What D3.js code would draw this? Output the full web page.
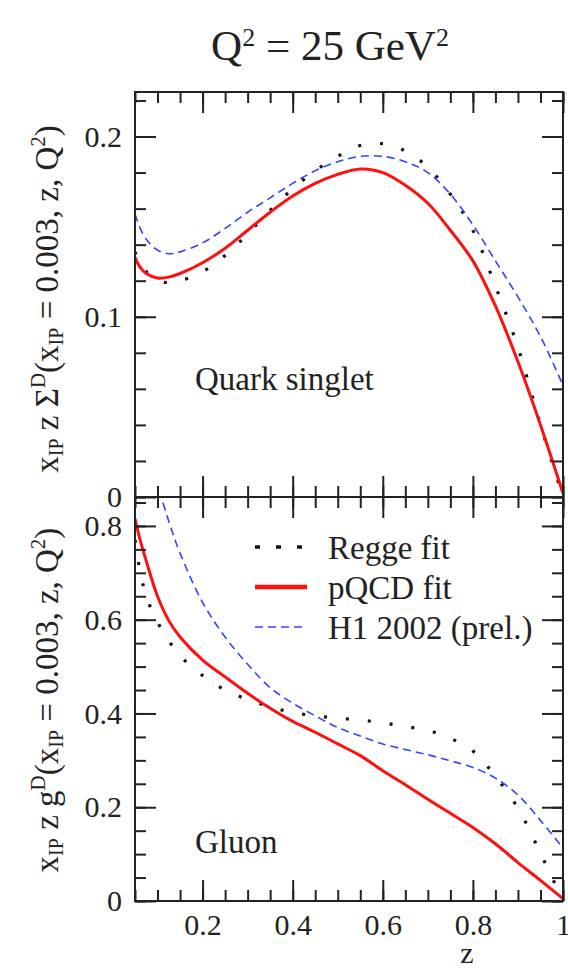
<!DOCTYPE html>
<html>
<head>
<meta charset="utf-8">
<script src="https://cdn.jsdelivr.net/npm/d3@7"></script>
<style>
  body { margin: 0; background: #fff; }
  svg text { font-family: "Liberation Serif", "DejaVu Serif", serif; fill: #222; }
</style>
</head>
<body>
<div id="chart"></div>
<script>
var svgWidth = 568;
var svgHeight = 968;
var serif = '"Liberation Serif", "DejaVu Serif", serif';

// z grid shared by all curves
var zVals = [0.05, 0.06, 0.075, 0.1, 0.125, 0.15, 0.2, 0.25, 0.3, 0.35, 0.4, 0.45,
             0.5, 0.55, 0.6, 0.65, 0.7, 0.75, 0.8, 0.85, 0.9, 0.95, 1.0];

// quark singlet panel
var quarkRegge = [0.136, 0.130, 0.125, 0.120, 0.119, 0.120, 0.125, 0.134, 0.146, 0.159, 0.171, 0.181,
                  0.189, 0.195, 0.196, 0.192, 0.183, 0.168, 0.148, 0.117, 0.083, 0.040, 0.0];
var quarkPQCD  = [0.133, 0.128, 0.124, 0.1215, 0.122, 0.124, 0.130, 0.138, 0.148, 0.158, 0.167, 0.174,
                  0.179, 0.182, 0.180, 0.173, 0.163, 0.148, 0.131, 0.106, 0.075, 0.040, 0.002];
var quarkH1    = [0.157, 0.150, 0.143, 0.137, 0.135, 0.136, 0.141, 0.149, 0.158, 0.166, 0.174, 0.181,
                  0.186, 0.189, 0.189, 0.186, 0.180, 0.168, 0.151, 0.131, 0.111, 0.089, 0.062];

// gluon panel
var gluonRegge = [0.77, 0.71, 0.65, 0.595, 0.555, 0.523, 0.481, 0.45, 0.43, 0.414, 0.402, 0.395,
                  0.39, 0.386, 0.38, 0.372, 0.364, 0.347, 0.32, 0.266, 0.198, 0.102, 0.0];
var gluonPQCD  = [0.815, 0.775, 0.725, 0.650, 0.598, 0.563, 0.514, 0.478, 0.443, 0.411, 0.383, 0.36,
                  0.335, 0.31, 0.278, 0.248, 0.217, 0.187, 0.157, 0.122, 0.082, 0.044, 0.005];
var gluonH1    = [1.12, 1.07, 0.99, 0.89, 0.81, 0.742, 0.637, 0.563, 0.505, 0.455, 0.422, 0.395,
                  0.37, 0.352, 0.335, 0.323, 0.312, 0.299, 0.285, 0.262, 0.226, 0.172, 0.113];

var xMajor = [0.2, 0.4, 0.6, 0.8, 1];
var xMinor = d3.range(0.05, 1.0001, 0.05);
var quarkMajor = [0, 0.1, 0.2];
var quarkMinor = d3.range(0, 0.2201, 0.02);
var gluonMajor = [0, 0.2, 0.4, 0.6, 0.8];
var gluonMinor = d3.range(0, 0.851, 0.05);

var seriesNames = ["Regge fit", "pQCD fit", "H1 2002 (prel.)"];
var seriesStyle = [
  {stroke: "#111", width: 3.2, dash: "3,19"},
  {stroke: "#ff1010", width: 3, dash: null},
  {stroke: "#3344ff", width: 1.6, dash: "8,5"}
];

var left = 135, right = 563;
var topY = 92, midY = 497, botY = 901;

var svg = d3.select("#chart")
  .append("svg")
  .attr("width", svgWidth)
  .attr("height", svgHeight);

var xScale = d3.scaleLinear().domain([0.05, 1]).range([left, right]);
var yQuark = d3.scaleLinear().domain([0, 0.2247]).range([midY, topY]);
var yGluon = d3.scaleLinear().domain([0, 0.8617]).range([botY, midY]);

// title
var title = svg.append("text")
  .attr("x", 330)
  .attr("y", 60)
  .attr("text-anchor", "middle")
  .style("font-family", serif)
  .style("font-size", "43px");
title.append("tspan").text("Q");
title.append("tspan").attr("baseline-shift", "55%").style("font-size", "26px").text("2");
title.append("tspan").text(" = 25 GeV");
title.append("tspan").attr("baseline-shift", "55%").style("font-size", "26px").text("2");

function drawPanel(yScale, yMajor, yMinor, curves, clipId, bottomLabels) {
  var y0 = yScale.range()[0], y1 = yScale.range()[1];

  svg.append("clipPath").attr("id", clipId)
    .append("rect")
    .attr("x", left).attr("y", y1)
    .attr("width", right - left).attr("height", y0 - y1);

  var line = d3.line()
    .x((d, i) => xScale(zVals[i]))
    .y(d => yScale(d))
    .curve(d3.curveCatmullRom.alpha(0.5));

  var g = svg.append("g").attr("clip-path", "url(#" + clipId + ")");
  curves.forEach(function(vals, i) {
    var st = seriesStyle[i];
    g.append("path")
      .attr("d", line(vals))
      .attr("fill", "none")
      .attr("stroke", st.stroke)
      .attr("stroke-width", st.width)
      .attr("stroke-dasharray", st.dash);
  });

  // ticks on all four sides, pointing inward
  var axes = [
    {axis: d3.axisBottom(xScale), t: `translate(0,${y0})`, major: xMajor, minor: xMinor, lab: bottomLabels},
    {axis: d3.axisTop(xScale), t: `translate(0,${y1})`, major: xMajor, minor: xMinor, lab: false},
    {axis: d3.axisLeft(yScale), t: `translate(${left},0)`, major: yMajor, minor: yMinor, lab: true},
    {axis: d3.axisRight(yScale), t: `translate(${right},0)`, major: yMajor, minor: yMinor, lab: false}
  ];
  axes.forEach(function(a) {
    svg.append("g").attr("transform", a.t)
      .call(a.axis.tickValues(a.minor).tickSize(-11).tickFormat(""))
      .call(s => s.select(".domain").remove())
      .selectAll("line").attr("stroke", "#222").attr("stroke-width", 2);
    var gm = svg.append("g").attr("transform", a.t)
      .call(a.axis.tickValues(a.major).tickSize(-21).tickPadding(a.lab ? 13 : 0)
        .tickFormat(a.lab ? d3.format("~g") : ""))
      .call(s => s.select(".domain").remove());
    gm.attr("font-family", null);
    gm.selectAll("line").attr("stroke", "#222").attr("stroke-width", 2);
    gm.selectAll("text")
      .attr("fill", "#333")
      .style("font-family", serif)
      .style("font-size", "30px");
  });

  svg.append("rect")
    .attr("x", left).attr("y", y1)
    .attr("width", right - left).attr("height", y0 - y1)
    .attr("fill", "none")
    .attr("stroke", "#222")
    .attr("stroke-width", 2);
}

drawPanel(yQuark, quarkMajor, quarkMinor, [quarkRegge, quarkPQCD, quarkH1], "clipQ", false);
drawPanel(yGluon, gluonMajor, gluonMinor, [gluonRegge, gluonPQCD, gluonH1], "clipG", true);

// panel names
svg.append("text").attr("x", 195).attr("y", 390)
  .style("font-family", serif).style("font-size", "33px").text("Quark singlet");
svg.append("text").attr("x", 195).attr("y", 853)
  .style("font-family", serif).style("font-size", "33px").text("Gluon");

// legend
var legendY = [547, 587, 627];
seriesNames.forEach(function(name, i) {
  var st = seriesStyle[i];
  svg.append("line")
    .attr("x1", 255).attr("x2", 307)
    .attr("y1", legendY[i]).attr("y2", legendY[i])
    .attr("stroke", st.stroke)
    .attr("stroke-width", i === 0 ? 3.5 : st.width + (i === 1 ? 1.5 : 0))
    .attr("stroke-dasharray", i === 0 ? "5,16" : st.dash);
  svg.append("text")
    .attr("x", 328).attr("y", legendY[i])
    .attr("dy", "0.35em")
    .style("font-family", serif)
    .style("font-size", "33px")
    .text(name);
});

// y labels
function yLabel(cy, sym) {
  var t = svg.append("text")
    .attr("transform", `translate(58,${cy}) rotate(-90)`)
    .attr("text-anchor", "middle")
    .style("font-family", serif)
    .style("font-size", "33px");
  t.append("tspan").text("x");
  t.append("tspan").attr("baseline-shift", "-25%").style("font-size", "20px").text("IP");
  t.append("tspan").text(" z " + sym);
  t.append("tspan").attr("baseline-shift", "60%").style("font-size", "21px").text("D");
  t.append("tspan").text("(x");
  t.append("tspan").attr("baseline-shift", "-25%").style("font-size", "20px").text("IP");
  t.append("tspan").text(" = 0.003, z, Q");
  t.append("tspan").attr("baseline-shift", "60%").style("font-size", "21px").text("2");
  t.append("tspan").text(")");
}
yLabel(299, "\u03A3");
yLabel(700, "g");

// x label
svg.append("text")
  .attr("x", 467).attr("y", 963)
  .attr("text-anchor", "middle")
  .style("font-family", serif)
  .style("font-size", "30px")
  .text("z");
</script>
</body>
</html>
